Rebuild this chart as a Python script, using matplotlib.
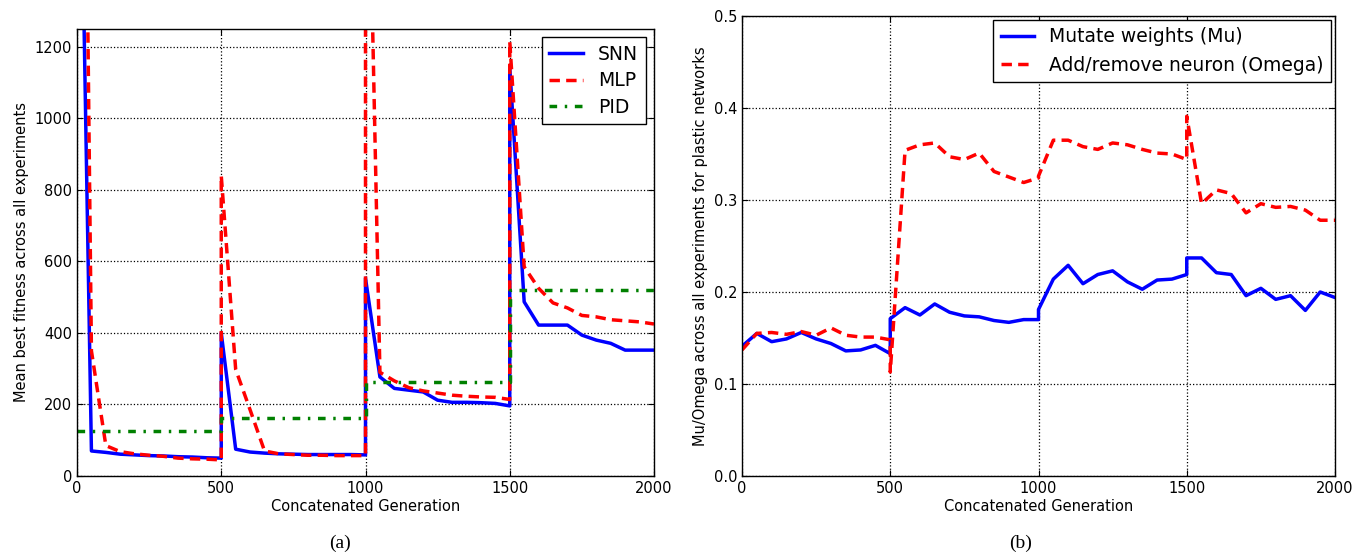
import matplotlib
matplotlib.use("Agg")
import matplotlib.pyplot as plt
import numpy as np

# generations: four concatenated runs of 500, sampled every 50 (boundaries repeated)
gen = [0, 50, 100, 150, 200, 250, 300, 350, 400, 450, 500,
       500, 550, 600, 650, 700, 750, 800, 850, 900, 950, 1000,
       1000, 1050, 1100, 1150, 1200, 1250, 1300, 1350, 1400, 1450, 1500,
       1500, 1550, 1600, 1650, 1700, 1750, 1800, 1850, 1900, 1950, 2000]

snn = [2400, 70, 66, 61, 59, 57, 56, 54, 53, 51, 50,
       400, 75, 67, 64, 62, 61, 60, 60, 60, 60, 59,
       553, 277, 245, 240, 235, 212, 206, 206, 205, 203, 196,
       1143, 487, 422, 422, 422, 394, 380, 371, 352, 352, 352]

mlp = [4000, 350, 85, 68, 62, 58, 55, 50, 48, 47, 45,
       840, 298, 185, 70, 62, 60, 58, 58, 57, 57, 57,
       2200, 290, 266, 247, 238, 232, 226, 223, 221, 220, 214,
       1215, 585, 525, 484, 470, 449, 445, 437, 434, 431, 425]

pid = [125] * 11 + [162] * 11 + [262] * 11 + [520] * 11

mu = [0.141, 0.155, 0.146, 0.149, 0.156, 0.149, 0.144, 0.136, 0.137, 0.142, 0.133,
      0.171, 0.183, 0.175, 0.187, 0.178, 0.174, 0.173, 0.169, 0.167, 0.170, 0.170,
      0.181, 0.214, 0.229, 0.209, 0.219, 0.223, 0.211, 0.203, 0.213, 0.214, 0.219,
      0.237, 0.237, 0.221, 0.219, 0.196, 0.204, 0.192, 0.196, 0.180, 0.200, 0.194]

omega = [0.137, 0.155, 0.156, 0.154, 0.157, 0.153, 0.161, 0.153, 0.151, 0.151, 0.148,
         0.113, 0.354, 0.360, 0.362, 0.347, 0.344, 0.351, 0.331, 0.325, 0.319, 0.324,
         0.326, 0.365, 0.365, 0.358, 0.355, 0.362, 0.360, 0.355, 0.351, 0.350, 0.344,
         0.391, 0.296, 0.311, 0.307, 0.286, 0.296, 0.292, 0.293, 0.289, 0.278, 0.278]

xticks = [0, 500, 1000, 1500, 2000]

plt.rcParams['font.family'] = 'DejaVu Sans'
plt.rcParams['xtick.direction'] = 'in'
plt.rcParams['ytick.direction'] = 'in'
plt.rcParams['xtick.top'] = True
plt.rcParams['ytick.right'] = True
plt.rcParams['xtick.major.size'] = 4
plt.rcParams['ytick.major.size'] = 4

fig = plt.figure(figsize=(13.58, 5.55), dpi=100)
ax = fig.add_axes([77/1358, 1-476/555, 577/1358, 447/555])
ax2 = fig.add_axes([742/1358, 1-476/555, 593/1358, 460/555])

dash = (0, (3, 1.8))
dashdot = (0, (2.2, 2.2, 0.7, 2.2))

ax.plot(gen, snn, color="blue", lw=2.5, label="SNN")
ax.plot(gen, mlp, color="red", lw=2.5, linestyle=dash, label="MLP")
ax.plot(gen, pid, color="green", lw=2.5, linestyle=dashdot, label="PID")
ax.set_xlim(0, 2000)
ax.set_ylim(0, 1250)
ax.set_xticks(xticks)
ax.set_yticks([0, 200, 400, 600, 800, 1000, 1200])
ax.set_xlabel("Concatenated Generation", fontsize=10.5, labelpad=2)
ax.set_ylabel("Mean best fitness across all experiments", fontsize=10.5)
ax.tick_params(labelsize=10.5)
ax.grid(True, color='k', linestyle=':', linewidth=0.9)
ax.legend(loc="upper right", fontsize=13.5, fancybox=False, edgecolor='k',
          framealpha=1, handlelength=1.8, borderaxespad=0.45, labelspacing=0.4)

ax2.plot(gen, mu, color="blue", lw=2.5, label="Mutate weights (Mu)")
ax2.plot(gen, omega, color="red", lw=2.5, linestyle=dash, label="Add/remove neuron (Omega)")
ax2.set_xlim(0, 2000)
ax2.set_ylim(0, 0.5)
ax2.set_xticks(xticks)
ax2.set_yticks([0.0, 0.1, 0.2, 0.3, 0.4, 0.5])
ax2.set_yticklabels(["0.0", "0.1", "0.2", "0.3", "0.4", "0.5"])
ax2.set_xlabel("Concatenated Generation", fontsize=10.5, labelpad=2)
ax2.set_ylabel("Mu/Omega across all experiments for plastic networks", fontsize=10.5)
ax2.tick_params(labelsize=10.5)
ax2.grid(True, color='k', linestyle=':', linewidth=0.9)
ax2.legend(loc="upper right", fontsize=13.5, fancybox=False, edgecolor='k',
           framealpha=1, handlelength=1.8, borderaxespad=0.2, labelspacing=0.5)

for a in (ax, ax2):
    for s in a.spines.values():
        s.set_linewidth(1.0)

fig.text(340/1358, 1-543/555, "(a)", family="Liberation Serif", fontsize=14,
         ha="center", va="center")
fig.text(1021/1358, 1-543/555, "(b)", family="Liberation Serif", fontsize=14,
         ha="center", va="center")

plt.savefig("out.png", dpi=100)
